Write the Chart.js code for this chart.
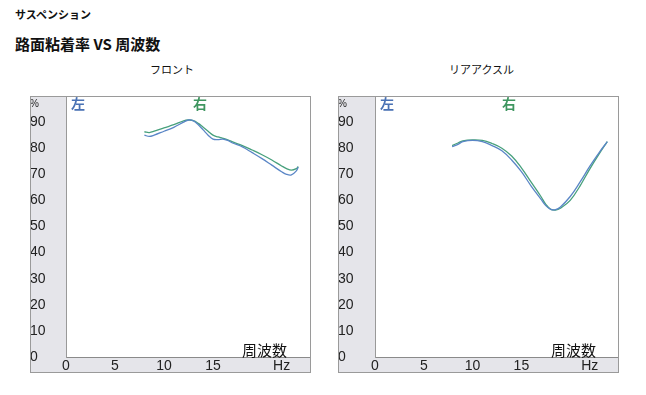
<!DOCTYPE html>
<html><head><meta charset="utf-8">
<script src="https://cdn.jsdelivr.net/npm/chart.js@4/dist/chart.umd.min.js"></script>
<style>
html,body{margin:0;padding:0;background:#fff;width:646px;height:395px;overflow:hidden;font-family:"Liberation Sans","Noto Sans CJK JP",sans-serif;}
.t{position:absolute;white-space:nowrap;color:#111;line-height:1;}
.box{position:absolute;top:96px;width:281px;height:277px;}
canvas{display:block;}
</style></head><body>
<div class="t" style="left:15px;top:9px;font-size:11px;font-weight:bold;font-family:'Noto Sans CJK JP',sans-serif;">サスペンション</div>
<div class="t" style="left:15px;top:36px;font-size:15px;font-weight:bold;font-family:'Noto Sans CJK JP',sans-serif;">路面粘着率 VS 周波数</div>
<div class="t" style="left:150px;top:64px;font-size:11px;font-family:'Noto Sans CJK JP',sans-serif;">フロント</div>
<div class="t" style="left:449px;top:64px;font-size:11px;font-family:'Noto Sans CJK JP',sans-serif;">リアアクスル</div>
<div class="box" style="left:30px;"><canvas id="c1" width="281" height="277"></canvas></div>
<div class="box" style="left:338px;"><canvas id="c2" width="281" height="277"></canvas></div>
<div class="t" style="left:71px;top:96px;font-size:14px;font-weight:bold;color:#4a72b4;font-family:'Noto Sans CJK JP',sans-serif;">左</div>
<div class="t" style="left:193px;top:96px;font-size:14px;font-weight:bold;color:#3f9660;font-family:'Noto Sans CJK JP',sans-serif;">右</div>
<div class="t" style="left:380px;top:96px;font-size:14px;font-weight:bold;color:#4a72b4;font-family:'Noto Sans CJK JP',sans-serif;">左</div>
<div class="t" style="left:502px;top:96px;font-size:14px;font-weight:bold;color:#3f9660;font-family:'Noto Sans CJK JP',sans-serif;">右</div>
<div class="t" style="left:242px;top:342px;font-size:15px;font-family:'Noto Sans CJK JP',sans-serif;">周波数</div>
<div class="t" style="left:551px;top:342px;font-size:15px;font-family:'Noto Sans CJK JP',sans-serif;">周波数</div>
<script>
// Frequencies (Hz)
const frontFreq = [8, 8.5, 9, 10, 11, 12, 12.5, 13, 13.5, 14, 14.5, 15, 15.5, 16, 16.5, 17, 18, 19, 20, 21, 22, 22.5, 23, 23.5, 23.7];
const frontLeft  = [85.0, 84.5, 85.0, 86.5, 88.0, 90.0, 90.8, 90.5, 89.0, 87.0, 85.0, 83.5, 83.3, 83.5, 83.0, 82.0, 80.5, 78.3, 76.0, 73.5, 71.0, 70.0, 69.8, 71.3, 72.8];
const frontRight = [86.3, 86.0, 86.5, 87.8, 89.0, 90.5, 90.8, 90.6, 89.5, 88.0, 86.5, 85.0, 84.3, 83.8, 83.2, 82.4, 81.0, 79.3, 77.5, 75.5, 73.2, 72.2, 71.6, 72.2, 73.0];

const rearFreq = [7.9, 8.5, 9, 10, 11, 12, 13, 14, 15, 16, 17, 17.5, 18, 18.5, 19, 20, 21, 22, 23, 23.8];
const rearLeft  = [80.6, 81.5, 82.5, 83.0, 82.5, 81.0, 79.0, 75.5, 71.0, 65.5, 60.5, 58.0, 56.6, 56.5, 57.5, 61.5, 67.0, 73.0, 78.5, 82.5];
const rearRight = [81.0, 82.0, 82.8, 83.2, 83.0, 81.8, 80.0, 77.0, 72.5, 67.0, 61.5, 58.5, 56.6, 56.3, 57.0, 60.0, 65.5, 72.0, 78.0, 82.5];

const xTickValues = [0, 5, 10, 15, 22];
const xTickLabels = ['0', '5', '10', '15', 'Hz'];
const yTickValues = [0, 10, 20, 30, 40, 50, 60, 70, 80, 90, 97];
const yTickLabels = ['0', '10', '20', '30', '40', '50', '60', '70', '80', '90', '%'];

const blue = '#5a86c6';
const green = '#47a07c';

function pts(xs, ys){ return xs.map((x,i)=>({x:x, y:ys[i]})); }

const bgPlugin = {
  id:'bg',
  beforeDraw(chart){
    const {ctx, chartArea:a, width, height} = chart;
    ctx.save();
    ctx.fillStyle = '#e5e5ea';
    ctx.fillRect(0,0,width,height);
    ctx.fillStyle = '#ffffff';
    ctx.fillRect(a.left, a.top, a.right-a.left, a.bottom-a.top);
    ctx.restore();
  },
  afterDraw(chart){
    const {ctx, width, height} = chart;
    ctx.save();
    ctx.strokeStyle = '#9a9a9a';
    ctx.lineWidth = 1;
    ctx.strokeRect(0.5,0.5,width-1,height-1);
    ctx.restore();
  }
};

function makeChart(id, xs, l, r, yw){
  new Chart(document.getElementById(id), {
    type:'scatter',
    data:{datasets:[
      {data:pts(xs,l), showLine:true, borderColor:blue, borderWidth:1.3, pointRadius:0, tension:0.4, fill:false},
      {data:pts(xs,r), showLine:true, borderColor:green, borderWidth:1.3, pointRadius:0, tension:0.4, fill:false}
    ]},
    options:{
      responsive:false, animation:false,
      layout:{padding:0},
      plugins:{legend:{display:false}, tooltip:{enabled:false}},
      scales:{
        x:{type:'linear', min:0, max:25,
          afterBuildTicks(s){ s.ticks = xTickValues.map(v=>({value:v})); },
          afterFit(s){ s.height = 16; s.paddingLeft = 0; s.paddingRight = 0; },
          grid:{display:false, drawTicks:false},
          border:{display:true, color:'#8a8a8a', width:1},
          ticks:{autoSkip:false, maxRotation:0, padding:1, color:'#222', font:{family:'Liberation Sans', size:14},
            callback(v){ const i = xTickValues.indexOf(v); return i>=0 ? xTickLabels[i] : ''; }}
        },
        y:{type:'linear', min:0, max:100,
          afterBuildTicks(s){ s.ticks = yTickValues.map(v=>({value:v})); },
          afterFit(s){ s.width = yw; s.paddingTop = 0; s.paddingBottom = 0; },
          grid:{display:false, drawTicks:false},
          border:{display:true, color:'#999', width:1, dash:[1,2]},
          ticks:{autoSkip:false, crossAlign:'far', padding:0, color:'#222',
            font(ctx){ return ctx.tick && ctx.tick.value===97 ? {family:'Liberation Sans', size:10} : {family:'Liberation Sans', size:14}; },
            callback(v){ const i = yTickValues.indexOf(v); return i>=0 ? yTickLabels[i] : ''; }}
        }
      }
    },
    plugins:[bgPlugin]
  });
}
makeChart('c1', frontFreq, frontLeft, frontRight, 36);
makeChart('c2', rearFreq, rearLeft, rearRight, 37);
</script>
</body></html>
